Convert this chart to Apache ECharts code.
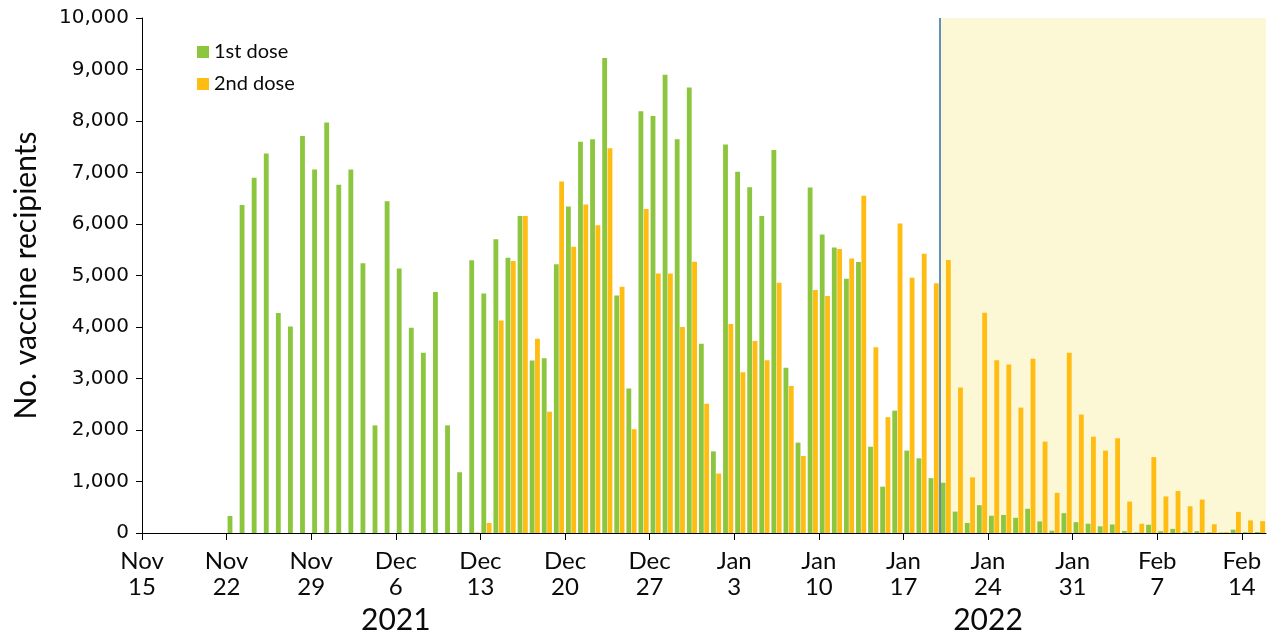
<!DOCTYPE html>
<html><head><meta charset="utf-8">
<script src="https://cdn.jsdelivr.net/npm/echarts@6/dist/echarts.min.js"></script>
<style>html,body{margin:0;padding:0;background:#fff}#c{width:1276px;height:635px}</style>
</head><body><div id="c"></div>
<script>
const categories = [
'Nov 15','Nov 16','Nov 17','Nov 18','Nov 19','Nov 20','Nov 21','Nov 22','Nov 23','Nov 24','Nov 25','Nov 26','Nov 27','Nov 28','Nov 29','Nov 30',
'Dec 1','Dec 2','Dec 3','Dec 4','Dec 5','Dec 6','Dec 7','Dec 8','Dec 9','Dec 10','Dec 11','Dec 12','Dec 13','Dec 14','Dec 15','Dec 16',
'Dec 17','Dec 18','Dec 19','Dec 20','Dec 21','Dec 22','Dec 23','Dec 24','Dec 25','Dec 26','Dec 27','Dec 28','Dec 29','Dec 30','Dec 31',
'Jan 1','Jan 2','Jan 3','Jan 4','Jan 5','Jan 6','Jan 7','Jan 8','Jan 9','Jan 10','Jan 11','Jan 12','Jan 13','Jan 14','Jan 15','Jan 16',
'Jan 17','Jan 18','Jan 19','Jan 20','Jan 21','Jan 22','Jan 23','Jan 24','Jan 25','Jan 26','Jan 27','Jan 28','Jan 29','Jan 30','Jan 31',
'Feb 1','Feb 2','Feb 3','Feb 4','Feb 5','Feb 6','Feb 7','Feb 8','Feb 9','Feb 10','Feb 11','Feb 12','Feb 13','Feb 14','Feb 15'
];
const firstDose = [
0,0,0,0,0,0,0,
330,6370,6900,7370,4270,4010,7710,7060,7970,
6760,7060,5240,2090,6440,5135,3985,3500,4680,2090,1180,5295,4650,5705,5345,6155,
3350,3395,5220,6340,7595,7645,9225,4610,2805,8190,8095,8900,7645,8650,3675,
1585,7545,7015,6715,6155,7435,3210,1755,6710,5795,5545,4935,5260,1675,900,2375,
1600,1450,1065,975,415,195,540,335,350,295,470,225,45,385,210,
180,130,165,40,10,160,35,80,25,35,15,10,65,15,20
];
const secondDose = [
0,0,0,0,0,0,0,0,0,0,0,0,0,0,0,0,
0,0,0,0,0,0,0,0,0,0,0,10,195,4125,5280,6155,
3770,2355,6825,5560,6380,5975,7470,4780,2015,6290,5040,5040,4000,5265,2510,
1155,4060,3120,3730,3355,4860,2855,1495,4720,4600,5515,5330,6550,3605,2250,6010,
4955,5420,4850,5300,2825,1080,4275,3355,3270,2435,3385,1775,780,3500,2300,
1870,1600,1840,610,180,1475,710,815,520,650,170,15,410,245,230
];
const tickLabels = ['Nov\n15','Nov\n22','Nov\n29','Dec\n6','Dec\n13','Dec\n20','Dec\n27','Jan\n3','Jan\n10','Jan\n17','Jan\n24','Jan\n31','Feb\n7','Feb\n14'];
const yearLabels = ['2021','2022'];
const yearAnchorDays = ['Dec 6','Jan 24'];
const shadeStartDay = 'Jan 20';
const seriesNames = ['1st dose','2nd dose'];

const chart = echarts.init(document.getElementById('c'), null, {renderer:'canvas'});
const nDays = categories.length;
const tickValues = tickLabels.map((_, i) => i * 7);
const shadeIdx = categories.indexOf(shadeStartDay);
const textColor = '#0a0a0a';

chart.setOption({
  animation: false,
  grid: {left: 142, right: 10, top: 18, bottom: 102, containLabel: false},
  legend: {
    data: seriesNames, orient: 'vertical', left: 192, top: 36,
    itemWidth: 12, itemHeight: 12, itemGap: 10, icon: 'rect',
    textStyle: {fontFamily: 'Lato', fontSize: 20, color: textColor, lineHeight: 22}
  },
  xAxis: [
    {type: 'category', data: categories, boundaryGap: true,
     axisLine: {lineStyle: {color: '#000', width: 1}}, axisTick: {show: false}, axisLabel: {show: false}},
    {type: 'value', min: 0, max: nDays, position: 'bottom',
     axisLine: {show: false}, splitLine: {show: false},
     axisTick: {show: true, length: 7, lineStyle: {color: '#000'}, customValues: tickValues},
     axisLabel: {customValues: tickValues, formatter: v => tickLabels[Math.round(v / 7)] || '',
       fontFamily: 'Lato', fontSize: 24, lineHeight: 26, color: textColor, margin: 15}}
  ],
  yAxis: {
    type: 'value', min: 0, max: 10000, interval: 1000,
    axisLine: {show: true, lineStyle: {color: '#000'}},
    axisTick: {show: true, length: 6, lineStyle: {color: '#000'}},
    splitLine: {show: false},
    axisLabel: {formatter: v => v.toLocaleString('en-US'), fontFamily: 'DejaVu Sans', fontSize: 20, color: textColor, margin: 13},
    name: 'No. vaccine recipients', nameLocation: 'middle', nameGap: 101,
    nameTextStyle: {fontFamily: 'Lato', fontSize: 30, color: textColor}
  },
  series: [
    {name: seriesNames[0], type: 'bar', data: firstDose, itemStyle: {color: '#8cc63f'},
     barGap: '10%', barCategoryGap: '16%', z: 3},
    {name: seriesNames[1], type: 'bar', data: secondDose, itemStyle: {color: '#ffbc13'}, z: 3},
    {type: 'line', xAxisIndex: 1, data: [], z: 1, silent: true,
     markArea: {silent: true, itemStyle: {color: '#fcf8d6'}, data: [[{xAxis: shadeIdx}, {xAxis: nDays}]]},
     markLine: {silent: true, symbol: 'none', label: {show: false},
       lineStyle: {color: '#2e6db4', type: 'solid', width: 1.5}, data: [{xAxis: shadeIdx}]}}
  ]
});

const yearY = chart.convertToPixel({yAxisIndex: 0}, 0) + 87;
chart.setOption({
  graphic: yearLabels.map((t, i) => ({
    type: 'text',
    x: chart.convertToPixel({xAxisIndex: 1}, categories.indexOf(yearAnchorDays[i])),
    y: yearY,
    style: {text: t, fontFamily: 'Lato', fontSize: 30, fill: textColor, align: 'center', verticalAlign: 'middle'}
  }))
});
</script></body></html>
